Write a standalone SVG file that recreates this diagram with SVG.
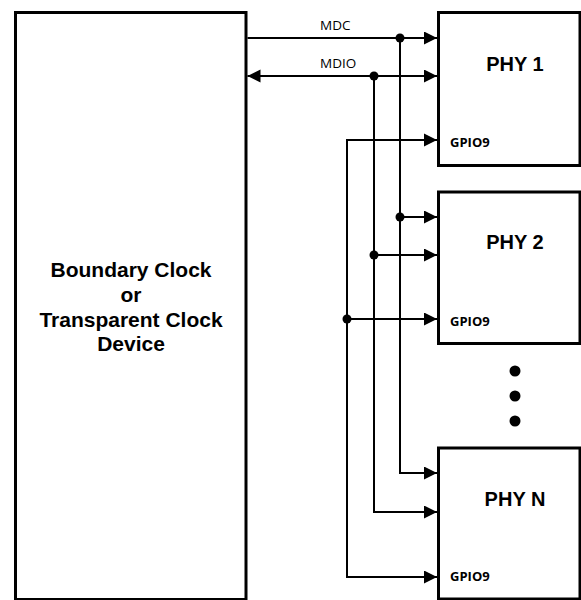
<svg xmlns="http://www.w3.org/2000/svg" width="581" height="600" viewBox="0 0 581 600">
<style>
.box{fill:#fff;stroke:#000;stroke-width:3}
.ln{fill:none;stroke:#000;stroke-width:2}
.arr{marker-end:url(#ah)}
.big{font-family:"Liberation Sans",Arial,sans-serif;font-weight:bold;font-size:20px;text-anchor:middle;fill:#000}
.sig{font-family:"Open Sans","Noto Sans",sans-serif;font-size:13.5px;fill:#000}
.gpio{font-family:"Open Sans","Noto Sans",sans-serif;font-weight:bold;font-size:13px;fill:#000}
.dot{fill:#000}
</style>
<defs>
<marker id="ah" markerUnits="userSpaceOnUse" markerWidth="14" markerHeight="14" refX="13" refY="6.5" orient="auto-start-reverse">
<path d="M0,0 L13,6.5 L0,13 z" fill="#000"/>
</marker>
</defs>
<rect width="581" height="600" fill="#fff"/>
<g id="device">
<rect class="box" x="15.5" y="12.5" width="230.5" height="587"/>
<text class="big" style="font-size:21px"><tspan x="131" y="277">Boundary Clock</tspan><tspan x="131" y="301.5">or</tspan><tspan x="131" y="326.5">Transparent Clock</tspan><tspan x="131" y="351">Device</tspan></text>
</g>
<g id="phy1">
<rect class="box" x="438.5" y="12.5" width="141.5" height="153"/>
<text class="big" x="515" y="70.5">PHY 1</text>
<text class="gpio" x="450" y="147.3">GPIO9</text>
</g>
<g id="phy2">
<rect class="box" x="438.5" y="192" width="141.5" height="151.5"/>
<text class="big" x="515" y="249">PHY 2</text>
<text class="gpio" x="450" y="326">GPIO9</text>
</g>
<g id="ellipsis">
<circle class="dot" cx="515" cy="371" r="5.5"/>
<circle class="dot" cx="515" cy="396" r="5.5"/>
<circle class="dot" cx="515" cy="421" r="5.5"/>
</g>
<g id="phyn">
<rect class="box" x="438.5" y="448" width="141.5" height="151"/>
<text class="big" x="515" y="505.7">PHY N</text>
<text class="gpio" x="450" y="580.7">GPIO9</text>
</g>
<g id="connectors">
<text class="sig" x="320" y="30">MDC</text>
<text class="sig" x="320" y="68.3">MDIO</text>
<line class="ln arr" x1="247.5" y1="38" x2="437" y2="38"/>
<line class="ln" x1="247.5" y1="76" x2="437" y2="76" marker-start="url(#ah)" marker-end="url(#ah)"/>
<path class="ln arr" d="M400,38 V473 H437"/>
<path class="ln arr" d="M374,76 V512 H437"/>
<path class="ln arr" d="M437,140 H347 V577 H437" style="marker-end:url(#ah);marker-start:none"/>
<line class="ln" x1="347" y1="140" x2="437" y2="140"/>
<line class="ln arr" x1="400" y1="217" x2="437" y2="217"/>
<line class="ln arr" x1="374" y1="255" x2="437" y2="255"/>
<line class="ln arr" x1="347" y1="319" x2="437" y2="319"/>
<path d="M424,133.5 L437,140 L424,146.5 z" fill="#000"/>
<circle class="dot" cx="400" cy="38" r="4.5"/>
<circle class="dot" cx="374" cy="76" r="4.5"/>
<circle class="dot" cx="400" cy="217" r="4.5"/>
<circle class="dot" cx="374" cy="255" r="4.5"/>
<circle class="dot" cx="347" cy="319" r="4.5"/>
</g>
</svg>
